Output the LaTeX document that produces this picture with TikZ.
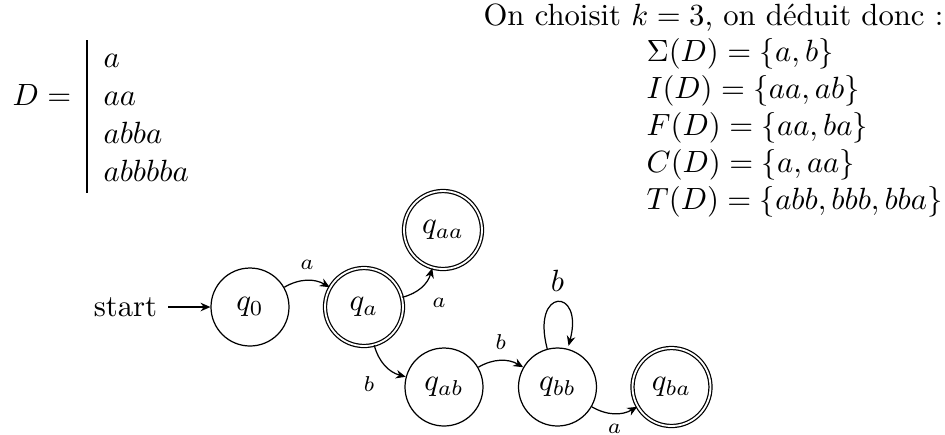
\documentclass[tikz,border=0pt]{standalone}
\usetikzlibrary{automata,arrows.meta}
\begin{document}
\begin{tikzpicture}[x=0.3257pt,y=0.3257pt,
  >={Stealth[length=3.2pt,width=2.8pt]},
  statebox/.style={circle,draw,thin,minimum size=25.4pt,inner sep=0pt},
  acc/.style={statebox,double,double distance=0.6pt},
  lbl/.style={font=\scriptsize},
  txt/.style={anchor=base west,inner sep=0pt}]
\useasboundingbox (0,0) rectangle (945,-434);
% left block
\node[txt] (Deq) at (12,-105) {$D =$};
\coordinate (bartop) at (87,-40);
\coordinate (barbot) at (87,-193);
\draw[thin] (bartop) -- (barbot);
\node[txt] (w1) at (103,-67) {$a$};
\node[txt] (w2) at (103,-105) {$aa$};
\node[txt] (w3) at (103,-143) {$abba$};
\node[txt] (w4) at (103,-181) {$abbbba$};
% right block
\node[anchor=base east,inner sep=0pt] (head) at (944,-25) {On choisit $k=3$, on déduit donc :};
\node[txt] (s1) at (646,-61) {$\Sigma(D)=\{a,b\}$};
\node[txt] (s2) at (646,-98) {$I(D)=\{aa,ab\}$};
\node[txt] (s3) at (646,-135) {$F(D)=\{aa,ba\}$};
\node[txt] (s4) at (646,-172) {$C(D)=\{a,aa\}$};
\node[txt] (s5) at (646,-209) {$T(D)=\{abb,bbb,bba\}$};
% automaton
\node[statebox] (q0) at (250,-307) {$q_0$};
\node[acc] (qa) at (364,-307) {$q_a$};
\node[acc] (qaa) at (443,-230) {$q_{aa}$};
\node[statebox] (qab) at (444,-387) {$q_{ab}$};
\node[statebox] (qbb) at (557.5,-387) {$q_{bb}$};
\node[acc] (qba) at (671.5,-387) {$q_{ba}$};
\node (start) at (125.5,-307) {start};
\draw[->,thin] (start) -- (q0);
\path[->,thin,auto]
  (q0) edge[bend left] node[lbl] {$a$} (qa)
  (qa) edge[bend right] node[lbl,swap] {$a$} (qaa)
  (qa) edge[bend right] node[lbl,swap] {$b$} (qab)
  (qab) edge[bend left] node[lbl] {$b$} (qbb)
  (qbb) edge[loop above] node {$b$} ()
  (qbb) edge[bend right] node[lbl,swap] {$a$} (qba);
\end{tikzpicture}
\end{document}
